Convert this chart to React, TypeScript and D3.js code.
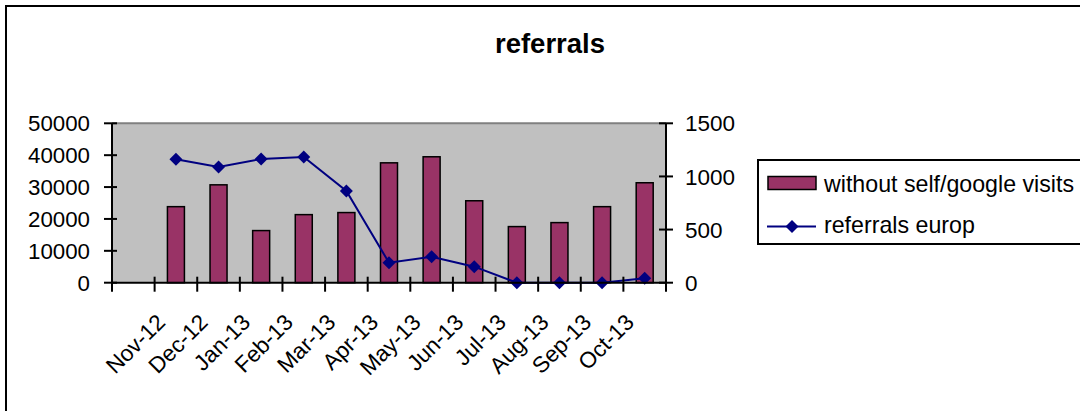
import React from "react";
import * as d3 from "d3";

const categories = ["", "Nov-12", "Dec-12", "Jan-13", "Feb-13", "Mar-13", "Apr-13", "May-13", "Jun-13", "Jul-13", "Aug-13", "Sep-13", "Oct-13"];
const visitsWithoutSelfGoogle: (number | null)[] = [null, 23850, 30700, 16350, 21350, 22000, 37600, 39500, 25700, 17600, 18850, 23850, 31350];
const referralsEurop: (number | null)[] = [null, 1161, 1089, 1164, 1183, 863, 188, 245, 151, 0, 0, 0, 41];
const leftTicks = [0, 10000, 20000, 30000, 40000, 50000];
const rightTicks = [0, 500, 1000, 1500];
const title = "referrals";
const seriesNames = ["without self/google visits", "referrals europ"];

const W = 1080;
const H = 411;
const plot = { left: 112, right: 666, top: 123.3, bottom: 282.7 };
const FONT = "'Liberation Sans', Arial, sans-serif";
const BAR = "#993366";
const LINE = "#000080";

function diamond(cx: number, cy: number, r: number) {
  return `M${cx},${cy - r}L${cx + r},${cy}L${cx},${cy + r}L${cx - r},${cy}Z`;
}

export default function App() {
  const x = d3.scaleBand<string>().domain(categories).range([plot.left, plot.right]).paddingInner(0).paddingOuter(0);
  const yL = d3.scaleLinear().domain([0, 50000]).range([plot.bottom, plot.top]);
  const yR = d3.scaleLinear().domain([0, 1500]).range([plot.bottom, plot.top]);
  const bw = 17;
  const cx = (c: string) => (x(c) as number) + x.bandwidth() / 2;

  const linePts = categories
    .map((c, i) => ({ c, v: referralsEurop[i] }))
    .filter((d) => d.v !== null) as { c: string; v: number }[];
  const lineGen = d3
    .line<{ c: string; v: number }>()
    .x((d) => cx(d.c))
    .y((d) => yR(d.v));

  const tickXs = [...categories.map((c) => x(c) as number), plot.right];

  return (
    <svg width={W} height={H} style={{ position: "absolute", left: 0, top: 0, background: "#fff" }} fontFamily={FONT}>
      <rect x={6} y={6} width={W + 20} height={H + 20} fill="#fff" stroke="#000" strokeWidth={2} />
      <text x={550} y={53} textAnchor="middle" fontSize={27.5} fontWeight="bold">{title}</text>

      {/* plot area */}
      <rect x={plot.left} y={plot.top} width={plot.right - plot.left} height={plot.bottom - plot.top} fill="#C0C0C0" />
      <line x1={plot.left} x2={plot.right} y1={plot.top} y2={plot.top} stroke="#808080" strokeWidth={2} />

      {/* bars */}
      {categories.map((c, i) => {
        const v = visitsWithoutSelfGoogle[i];
        if (v === null) return null;
        return (
          <rect key={c} x={cx(c) - bw / 2} y={yL(v)} width={bw} height={yL(0) - yL(v)} fill={BAR} stroke="#000" strokeWidth={1.5} />
        );
      })}

      {/* axes */}
      <line x1={plot.left} x2={plot.left} y1={plot.top} y2={plot.bottom} stroke="#000" strokeWidth={2} />
      <line x1={plot.right} x2={plot.right} y1={plot.top} y2={plot.bottom} stroke="#000" strokeWidth={2} />
      {leftTicks.map((t) => (
        <g key={"l" + t}>
          <line x1={plot.left - 8} x2={plot.left + 5} y1={yL(t)} y2={yL(t)} stroke="#000" strokeWidth={2} />
          <text x={90} y={yL(t)} dy="0.36em" textAnchor="end" fontSize={22.3}>{t}</text>
        </g>
      ))}
      {rightTicks.map((t) => (
        <g key={"r" + t}>
          <line x1={plot.right - 7} x2={plot.right + 7} y1={yR(t)} y2={yR(t)} stroke="#000" strokeWidth={2} />
          <text x={685} y={yR(t)} dy="0.36em" textAnchor="start" fontSize={22.5}>{t}</text>
        </g>
      ))}

      {/* line series */}
      <path d={lineGen(linePts) || ""} fill="none" stroke={LINE} strokeWidth={2} />
      {linePts.map((d) => (
        <path key={"m" + d.c} d={diamond(cx(d.c), yR(d.v), 6.5)} fill={LINE} />
      ))}

      <line x1={plot.left} x2={plot.right} y1={plot.bottom} y2={plot.bottom} stroke="#000" strokeWidth={2} />
      {tickXs.map((t, i) => (
        <line key={"xt" + i} x1={t} x2={t} y1={plot.bottom - 6} y2={plot.bottom + 9} stroke="#000" strokeWidth={2} />
      ))}
      {categories.map((c) =>
        c ? (
          <text key={"xl" + c} transform={`translate(${cx(c) - 15},318) rotate(-45)`} textAnchor="end" dy="0.35em" fontSize={22.5}>
            {c}
          </text>
        ) : null
      )}

      {/* legend */}
      <rect x={758} y={160} width={W} height={84} fill="#fff" stroke="#000" strokeWidth={2} />
      <rect x={768} y={176.5} width={48} height={13} fill={BAR} stroke="#000" strokeWidth={1.5} />
      <text x={824} y={191.5} fontSize={23.2}>{seriesNames[0]}</text>
      <line x1={767} x2={816} y1={226.5} y2={226.5} stroke={LINE} strokeWidth={2} />
      <path d={diamond(792, 226.5, 6.5)} fill={LINE} />
      <text x={824} y={233} fontSize={23.2}>{seriesNames[1]}</text>
    </svg>
  );
}
